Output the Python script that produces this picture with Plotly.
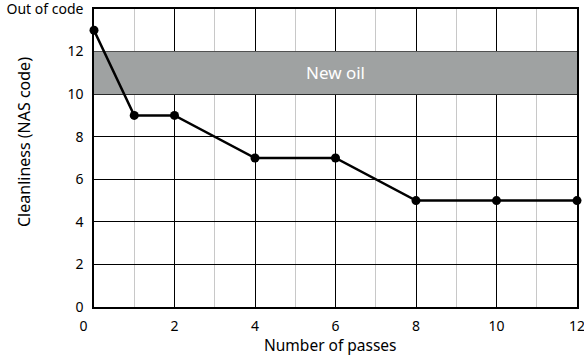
import plotly.graph_objects as go

passes = [0, 1, 2, 4, 6, 8, 10, 12]
nas_code = [13, 9, 9, 7, 7, 5, 5, 5]

y_ticks = [0, 2, 4, 6, 8, 10, 12, 14]
y_labels = ["0", "2", "4", "6", "8", "10", "12", "Out of code"]
x_ticks = [0, 2, 4, 6, 8, 10, 12]
x_labels = ["0\u2003\u2002", "2", "4", "6", "8", "10", "12"]

new_oil_low, new_oil_high = 10, 12

FONT = "Noto Sans"

fig = go.Figure()

fig.add_shape(
    type="rect", xref="x", yref="y",
    x0=0, x1=12, y0=new_oil_low, y1=new_oil_high,
    fillcolor="#9fa2a2", line_width=0, layer="between",
)
fig.add_annotation(
    x=6, y=(new_oil_low + new_oil_high) / 2, text="New oil",
    showarrow=False, font=dict(family=FONT, size=17, color="white"),
)

fig.add_trace(go.Scatter(
    x=passes, y=nas_code, mode="lines+markers",
    line=dict(color="black", width=2.5),
    marker=dict(color="black", size=9),
    cliponaxis=False, showlegend=False,
))

# axis titles placed by hand so the wide "Out of code" label does not push them
fig.add_annotation(
    x=0, xref="paper", xanchor="center", xshift=-70,
    y=0.5, yref="paper", yshift=16,
    text="Cleanliness (NAS code)", textangle=-90, showarrow=False,
    font=dict(family=FONT, size=16, color="black"),
)
fig.add_annotation(
    x=0.5, xref="paper", xshift=-5,
    y=0, yref="paper", yanchor="middle", yshift=-38,
    text="Number of passes", showarrow=False,
    font=dict(family=FONT, size=15.5, color="black"),
)

fig.update_layout(
    width=584, height=357,
    margin=dict(l=94, r=7, t=9, b=50),
    paper_bgcolor="white", plot_bgcolor="white",
    font=dict(family=FONT, size=14, color="black"),
    xaxis=dict(
        range=[0, 12], tickvals=x_ticks, ticktext=x_labels,
        showgrid=True, gridcolor="black", gridwidth=1.2,
        minor=dict(dtick=1, tick0=0, showgrid=True, gridcolor="#c8c8c8", gridwidth=1.2),
        showline=True, linecolor="black", linewidth=1.5, mirror=True,
        zeroline=False, ticks="", ticklabelstandoff=5,
        ticklabeloverflow="allow",
        automargin=False,
    ),
    yaxis=dict(
        range=[0, 14], tickvals=y_ticks, ticktext=y_labels,
        showgrid=True, gridcolor="black", gridwidth=1.2,
        showline=True, linecolor="black", linewidth=1.5, mirror=True,
        zeroline=False, ticks="", ticklabelstandoff=6,
        ticklabeloverflow="allow",
        automargin=False,
    ),
)

fig.write_html(
    "out.html",
    config={"displayModeBar": False},
    post_script="document.body.style.margin='0';",
)
